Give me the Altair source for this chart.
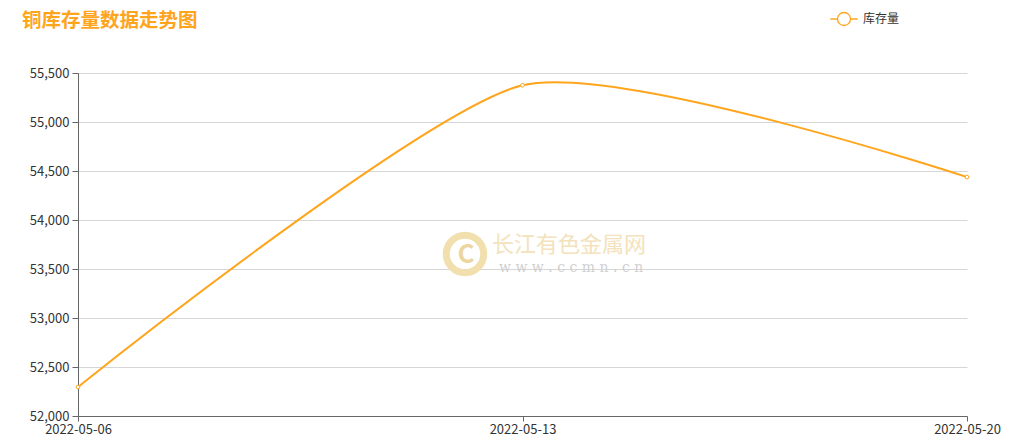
import altair as alt
import pandas as pd

dates = ["2022-05-06", "2022-05-13", "2022-05-20"]
values = [52296, 55375, 54438]
series = ["库存量", "库存量", "库存量"]
y_ticks = [52000, 52500, 53000, 53500, 54000, 54500, 55000, 55500]
title_text = "铜库存量数据走势图"

df = pd.DataFrame({"date": dates, "value": values, "series": series})

ORANGE = "#FFA51D"
FONT = "Noto Sans CJK SC"

x_enc = alt.X("date:O", scale=alt.Scale(type="point", padding=0),
              axis=alt.Axis(title=None, labelAngle=0, labelFontSize=13, labelColor="#333",
                            labelFont=FONT, domainColor="#666", tickColor="#666", tickSize=5,
                            grid=False, labelPadding=2))
y_enc = alt.Y("value:Q", scale=alt.Scale(domain=[52000, 55500], nice=False, zero=False),
              axis=alt.Axis(title=None, values=y_ticks, format=",.0f", labelFontSize=13,
                            labelColor="#333", labelFont=FONT, domainColor="#666",
                            tickColor="#666", tickSize=6, gridColor="#d6d6d6", labelPadding=3))

legend_path = ("M -1.05 0 L -0.5 0 M 0.5 0 L 1.05 0 "
               "M -0.5 0 A 0.5 0.5 0 1 0 0.5 0 A 0.5 0.5 0 1 0 -0.5 0")

color_enc = alt.Color("series:N", scale=alt.Scale(domain=["库存量"], range=[ORANGE]),
                      legend=alt.Legend(title=None, orient="none", legendX=752, legendY=-68,
                                        symbolType=legend_path, symbolSize=676,
                                        symbolStrokeWidth=1.3, symbolFillColor="white",
                                        labelFont=FONT, labelFontSize=12, labelColor="#333",
                                        labelOffset=5, padding=0))

line = alt.Chart(df).mark_line(interpolate="cardinal", tension=0.35, strokeWidth=2).encode(
    x=x_enc, y=y_enc, color=color_enc)
pts = alt.Chart(df).mark_point(filled=True, fill="white", stroke=ORANGE, strokeWidth=1,
                               size=14, opacity=1).encode(x="date:O", y="value:Q")

wm = pd.DataFrame({"a": [1]})
logo = alt.Chart(wm).mark_point(shape="circle", size=1400, strokeWidth=7, stroke="#f1dfae",
                                filled=False, opacity=1).encode(x=alt.value(387), y=alt.value(181))
logo_c = alt.Chart(wm).mark_text(text="C", fontSize=26, fontWeight="bold", color="#ecd59e",
                                 font=FONT).encode(x=alt.value(388), y=alt.value(182))
wm_text = alt.Chart(wm).mark_text(text="长江有色金属网", fontSize=22, color="#f3e2bb", align="left",
                                  font=FONT).encode(x=alt.value(414), y=alt.value(172))
wm_url = alt.Chart(wm).mark_text(text="w w w . c c m n . c n", fontSize=14, color="#d0d0d0",
                                 align="left", font="DejaVu Serif").encode(
    x=alt.value(421), y=alt.value(195))
title = alt.Chart(wm).mark_text(text=title_text, fontSize=19.5, fontWeight="bold", color=ORANGE,
                                align="left", baseline="middle", font=FONT).encode(
    x=alt.value(-56), y=alt.value(-52))

chart = alt.layer(logo, logo_c, wm_text, wm_url, line, pts, title).properties(
    width=889, height=343,
    padding={"left": 70, "top": 65, "right": 34, "bottom": 24},
    autosize=alt.AutoSizeParams(type="none"),
).configure_view(stroke=None)

chart.save("out.html", embed_options={"renderer": "svg", "actions": False})
